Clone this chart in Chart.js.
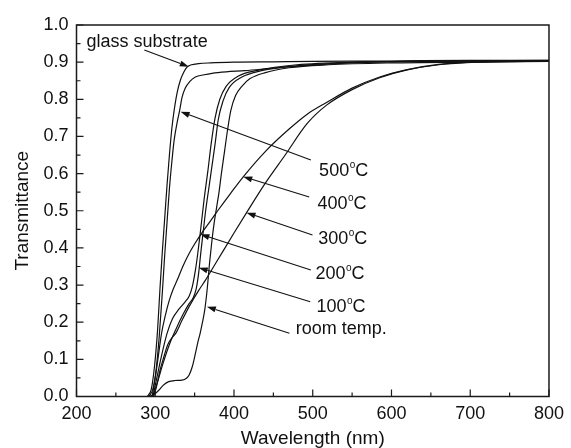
<!DOCTYPE html>
<html>
<head>
<meta charset="utf-8">
<script src="https://cdn.jsdelivr.net/npm/chart.js@4/dist/chart.umd.min.js"></script>
<style>
  html, body { margin: 0; padding: 0; background: #fff; }
  #wrap { width: 571px; height: 448px; position: relative; }
</style>
</head>
<body>
<div id="wrap"><canvas id="c"></canvas></div>
<script>
// ---- data (wavelength in nm, transmittance) ----
const glassNm = [290,295,299,303,306,309,312,315,318,321,324,328,332,336,340,346,355,370,400,450,500,600,700,800];
const glassT  = [0,0.02,0.08,0.18,0.29,0.39,0.48,0.57,0.65,0.72,0.77,0.82,0.852,0.872,0.886,0.893,0.896,0.898,0.9,0.901,0.902,0.903,0.905,0.905];

const t500Nm = [292,297,301,305,309,312,315,318,321,324,328,331,334,338,344,351,362,372,390,414,450,500,560,650,800];
const t500T  = [0,0.02,0.07,0.16,0.28,0.38,0.47,0.56,0.63,0.69,0.74,0.77,0.805,0.83,0.848,0.86,0.866,0.87,0.874,0.877,0.884,0.892,0.899,0.903,0.905];

const t400Nm = [296,300,304,308,313,318,323,328,335,343,351,359,370,380,395,412,440,470,493,518,550,585,620,660,711,800];
const t400T  = [0,0.05,0.11,0.17,0.22,0.26,0.29,0.314,0.35,0.385,0.414,0.44,0.472,0.502,0.545,0.592,0.66,0.72,0.76,0.792,0.83,0.86,0.88,0.894,0.901,0.903];

const t300Nm = [298,302,306,310,316,322,326,334,343,355,364,380,400,416,440,465,493,518,550,585,620,660,711,800];
const t300T  = [0,0.03,0.07,0.1,0.14,0.16,0.17,0.205,0.242,0.285,0.314,0.37,0.44,0.495,0.575,0.65,0.735,0.785,0.826,0.858,0.879,0.893,0.9,0.903];

const t200Nm = [297,302,308,315,322,330,338,343,347,351,354,357,362,367,371,376,382,390,405,430,480,550,700,800];
const t200T  = [0,0.05,0.11,0.17,0.21,0.235,0.255,0.27,0.295,0.34,0.385,0.437,0.53,0.61,0.68,0.75,0.8,0.835,0.862,0.878,0.893,0.9,0.903,0.904];

const t100Nm = [297,303,310,318,326,335,343,348,352,355,358,361,364,368,372,376,380,386,394,410,435,480,550,700,800];
const t100T  = [0,0.04,0.09,0.14,0.18,0.22,0.25,0.265,0.29,0.33,0.39,0.445,0.5,0.56,0.62,0.68,0.745,0.795,0.832,0.86,0.877,0.89,0.899,0.903,0.904];

const rtNm = [293,300,305,310,317,325,334,340,343,347,351,354,357,360,363,366,369,372,375,378,381,384,388,392,396,402,410,420,440,470,520,600,700,800];
const rtT  = [0,0.008,0.018,0.03,0.04,0.043,0.044,0.05,0.058,0.08,0.116,0.145,0.17,0.2,0.235,0.29,0.36,0.42,0.47,0.51,0.55,0.6,0.66,0.72,0.77,0.81,0.835,0.855,0.872,0.885,0.893,0.898,0.9,0.902];

const seriesNames = ['glass substrate','500°C','400°C','300°C','200°C','100°C','room temp.'];

// axis ticks
const xMin = 200, xMax = 800, xStep = 50, xLabelEvery = 100;
const yMin = 0, yMax = 1, yStep = 0.05;

// annotation labels (text, whether a superscript "o" + "C" follows) and arrows, in data units
const labelTexts  = ['glass substrate','500','400','300','200','100','room temp.'];
const labelDegree = [false,true,true,true,true,true,false];
const labelNm     = [212.8,508.1,506.0,506.9,503.5,504.7,478.3];
const labelT      = [0.940,0.5935,0.5047,0.4105,0.3163,0.2275,0.1682];
const arrowFromNm = [286.1,497.6,495.5,499.7,497.6,496.8,470.4];
const arrowFromT  = [0.9327,0.6366,0.537,0.4347,0.3405,0.2552,0.1701];
const arrowToNm   = [342.6,332.2,411.7,415.9,357.3,355.2,365.6];
const arrowToT    = [0.8878,0.7666,0.5917,0.4948,0.4366,0.3467,0.2417];

// ---- build datasets ----
function pts(nm, t) { return nm.map((v, i) => ({ x: v, y: t[i] })); }
const allSeries = [
  pts(glassNm, glassT), pts(t500Nm, t500T), pts(t400Nm, t400T), pts(t300Nm, t300T),
  pts(t200Nm, t200T), pts(t100Nm, t100T), pts(rtNm, rtT)
];
const FONT = '"Liberation Sans", Arial, Helvetica, sans-serif';
const INK = '#111';

const deco = {
  id: 'deco',
  afterDatasetsDraw(chart) {
    const { ctx, chartArea: a, scales: { x, y } } = chart;
    ctx.save();
    // frame
    ctx.strokeStyle = '#1a1a1a';
    ctx.lineWidth = 1.5;
    ctx.strokeRect(a.left, a.top, a.right - a.left, a.bottom - a.top);
    // inward ticks
    ctx.lineWidth = 1.2;
    ctx.beginPath();
    x.ticks.forEach(t => {
      const px = x.getPixelForValue(t.value);
      const len = (Math.round(t.value) % xLabelEvery === 0) ? 7 : 4;
      ctx.moveTo(px, a.bottom); ctx.lineTo(px, a.bottom - len);
    });
    y.ticks.forEach(t => {
      const py = y.getPixelForValue(t.value);
      const len = (Math.round(t.value * 100) % 10 === 0) ? 7 : 4;
      ctx.moveTo(a.left, py); ctx.lineTo(a.left + len, py);
    });
    ctx.stroke();
    // arrows
    ctx.strokeStyle = INK; ctx.fillStyle = INK; ctx.lineWidth = 1.1;
    for (let i = 0; i < arrowFromNm.length; i++) {
      const x1 = x.getPixelForValue(arrowFromNm[i]), y1 = y.getPixelForValue(arrowFromT[i]);
      const x2 = x.getPixelForValue(arrowToNm[i]), y2 = y.getPixelForValue(arrowToT[i]);
      const ang = Math.atan2(y2 - y1, x2 - x1);
      const hl = 9, hw = 3;
      const bx = x2 - hl * Math.cos(ang), by = y2 - hl * Math.sin(ang);
      ctx.beginPath(); ctx.moveTo(x1, y1); ctx.lineTo(bx, by); ctx.stroke();
      ctx.beginPath();
      ctx.moveTo(x2, y2);
      ctx.lineTo(bx + hw * Math.sin(ang), by - hw * Math.cos(ang));
      ctx.lineTo(bx - hw * Math.sin(ang), by + hw * Math.cos(ang));
      ctx.closePath(); ctx.fill();
    }
    // labels
    ctx.textBaseline = 'alphabetic'; ctx.textAlign = 'left';
    for (let i = 0; i < labelTexts.length; i++) {
      const px = x.getPixelForValue(labelNm[i]), py = y.getPixelForValue(labelT[i]);
      ctx.font = '18px ' + FONT;
      ctx.fillText(labelTexts[i], px, py);
      if (labelDegree[i]) {
        const w = ctx.measureText(labelTexts[i]).width;
        ctx.font = '10px ' + FONT;
        ctx.fillText('o', px + w + 0.5, py - 8);
        const w2 = ctx.measureText('o').width;
        ctx.font = '18px ' + FONT;
        ctx.fillText('C', px + w + w2 + 0.5, py);
      }
    }
    ctx.restore();
  }
};

new Chart(document.getElementById('c'), {
  type: 'line',
  data: {
    datasets: allSeries.map((d, i) => ({
      label: seriesNames[i],
      data: d,
      borderColor: INK,
      borderWidth: 1.2,
      pointRadius: 0,
      fill: false,
      cubicInterpolationMode: 'monotone'
    }))
  },
  options: {
    responsive: true,
    maintainAspectRatio: false,
    animation: false,
    devicePixelRatio: 1,
    layout: { padding: { left: 0, top: 25, right: 17, bottom: 0 } },
    plugins: { legend: { display: false }, tooltip: { enabled: false } },
    scales: {
      x: {
        type: 'linear', min: xMin, max: xMax,
        grid: { display: false, drawTicks: false },
        border: { display: false },
        ticks: {
          stepSize: xStep, autoSkip: false, maxRotation: 0, padding: 7,
          color: INK, font: { family: FONT, size: 18 },
          callback: v => (Math.round(v) % xLabelEvery === 0 ? String(Math.round(v)) : '')
        },
        title: { display: true, text: 'Wavelength (nm)', color: INK,
                 font: { family: FONT, size: 19, lineHeight: 1 }, padding: { top: 0, bottom: 0 } },
        afterFit: s => { s.height = 51.5; }
      },
      y: {
        min: yMin, max: yMax,
        grid: { display: false, drawTicks: false },
        border: { display: false },
        ticks: {
          stepSize: yStep, autoSkip: false, padding: 8,
          color: INK, font: { family: FONT, size: 18 },
          callback: v => { const k = Math.round(v * 100); return k % 10 === 0 ? (k / 100).toFixed(1) : ''; }
        },
        title: { display: true, text: 'Transmittance', color: INK,
                 font: { family: FONT, size: 19, lineHeight: 1.2 }, padding: { top: 11.6, bottom: 0 } },
        afterFit: s => { s.width = 76.5; }
      }
    }
  },
  plugins: [deco]
});
</script>
</body>
</html>
